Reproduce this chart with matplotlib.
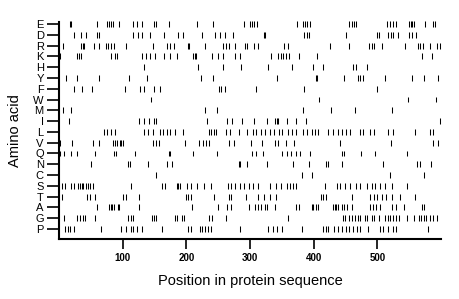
import matplotlib
matplotlib.use("Agg")
import matplotlib.pyplot as plt

plt.rcParams['font.family'] = ['Liberation Sans', 'DejaVu Sans']

# Amino acids, top to bottom
acids = ["E", "D", "R", "K", "H", "Y", "F", "W", "M", "I",
         "L", "V", "Q", "N", "C", "S", "T", "A", "G", "P"]

# Positions of each residue in the sequence
E = [17, 19, 60, 75, 78, 82, 85, 94, 116, 123, 131, 149, 152, 173, 217, 242,
     291, 300, 303, 307, 311, 374, 383, 386, 390, 394, 456, 460, 463, 467,
     515, 520, 525, 529, 550, 553, 555, 558, 575, 587, 591]
D = [23, 35, 42, 59, 63, 116, 124, 131, 143, 165, 187, 195, 224, 245, 253,
     260, 273, 322, 324, 385, 389, 393, 451, 499, 502, 517, 521, 525, 533,
     550, 555, 561]
R = [7, 34, 37, 40, 55, 63, 74, 77, 81, 86, 105, 147, 169, 174, 180, 202,
     204, 229, 258, 262, 267, 277, 292, 296, 307, 313, 353, 359, 426, 456,
     487, 491, 495, 507, 544, 564, 567, 571, 583, 593, 598]
K = [2, 29, 32, 35, 82, 88, 91, 130, 136, 143, 151, 165, 175, 185, 211, 213,
     215, 240, 250, 257, 277, 285, 333, 344, 348, 352, 357, 362, 377, 405,
     570, 586]
H = [134, 219, 258, 286, 328, 366, 399, 414, 462, 466, 483]
Y = [11, 29, 63, 110, 139, 223, 242, 343, 404, 406, 447, 469, 472, 478, 512,
     555, 573, 596]
F = [23, 36, 52, 103, 128, 134, 149, 158, 252, 255, 261, 309, 385, 500]
W = [145, 409, 548, 592]
M = [7, 19, 229, 248, 384, 428, 465, 523]
I = [16, 125, 134, 141, 149, 153, 232, 264, 271, 288, 306, 326, 339, 342,
     344, 358, 372, 388, 598]
L = [71, 76, 82, 88, 134, 140, 148, 159, 164, 169, 174, 182, 194, 235, 238,
     244, 247, 263, 269, 283, 295, 305, 310, 317, 324, 332, 338, 346, 351,
     360, 366, 373, 383, 389, 397, 402, 407, 423, 431, 439, 444, 451, 457,
     473, 478, 488, 494, 516, 525, 559, 583, 588]
V = [2, 21, 54, 63, 85, 88, 91, 96, 98, 101, 148, 152, 157, 198, 220, 226,
     231, 236, 267, 275, 302, 319, 339, 344, 357, 369, 441, 521, 588, 596]
Q = [2, 8, 19, 28, 57, 87, 90, 120, 172, 175, 211, 248, 303, 310, 320, 351,
     358, 365, 372, 378, 394, 444, 448, 474, 497, 546]
N = [51, 109, 112, 140, 169, 177, 282, 284, 295, 326, 368, 392, 420, 423,
     444, 509, 563, 567, 585]
C = [153, 381, 398, 520, 574]
S = [4, 9, 19, 24, 30, 33, 36, 38, 42, 46, 49, 53, 113, 161, 166, 185, 187,
     190, 201, 208, 216, 227, 239, 265, 270, 276, 284, 291, 299, 305, 312,
     332, 341, 348, 358, 363, 367, 373, 418, 436, 441, 449, 457, 467, 473,
     483, 491, 496, 504, 512, 523, 547]
T = [4, 44, 48, 56, 100, 105, 125, 199, 202, 207, 244, 267, 270, 294, 313,
     322, 331, 341, 411, 415, 420, 460, 488, 495, 500, 507, 514, 523, 536, 559]
A = [60, 79, 82, 84, 87, 92, 94, 125, 209, 250, 264, 270, 299, 308, 313, 317,
     323, 327, 339, 373, 377, 397, 399, 404, 407, 431, 433, 435, 439, 444,
     447, 452, 460, 488, 493, 498, 504, 523, 530, 542, 570, 573]
G = [8, 29, 33, 37, 41, 57, 109, 113, 117, 146, 149, 153, 182, 186, 193, 197,
     236, 240, 262, 359, 446, 449, 456, 460, 465, 470, 473, 480, 483, 491,
     495, 502, 512, 516, 520, 525, 530, 534, 546, 558, 565, 568, 573, 577,
     583, 588, 593]
P = [9, 14, 17, 24, 66, 98, 106, 113, 117, 122, 131, 161, 203, 207, 221, 225,
     229, 234, 238, 284, 329, 336, 342, 350, 381, 415, 419, 423, 432, 439,
     444, 451, 456, 461, 468, 472, 486, 504, 509, 517, 525, 530, 580]

rows = [E, D, R, K, H, Y, F, W, M, I, L, V, Q, N, C, S, T, A, G, P]
xticks = [100, 200, 300, 400, 500]

fig = plt.figure(figsize=(4.6, 2.99), dpi=100)
ax = fig.add_axes([59 / 460, 1 - 239 / 299, 382 / 460, 217 / 299])

n = len(acids)
for i, pos in enumerate(rows):
    y = n - 1 - i
    ax.vlines(pos, y - 0.27, y + 0.27, color="black", linewidth=0.75,
              clip_on=False)

ax.set_xlim(0, 600)
ax.set_ylim(-0.93, n - 1 + 0.19)
ax.set_yticks(range(n))
ax.set_yticklabels(acids[::-1], fontsize=8)
ax.set_xticks(xticks)
ax.set_xticklabels([str(t) for t in xticks], fontsize=7, fontweight="bold")

ax.tick_params(axis="y", length=9, width=1.2, pad=2)
ax.tick_params(axis="x", length=7, width=1.2, pad=3)

for side in ["top", "right"]:
    ax.spines[side].set_visible(False)
for side in ["left", "bottom"]:
    ax.spines[side].set_linewidth(1.5)

ax.set_xlabel("Position in protein sequence", fontsize=10.5, labelpad=8)
ax.set_ylabel("Amino acid", fontsize=10.5, labelpad=8)

fig.savefig("out.png", dpi=100)
